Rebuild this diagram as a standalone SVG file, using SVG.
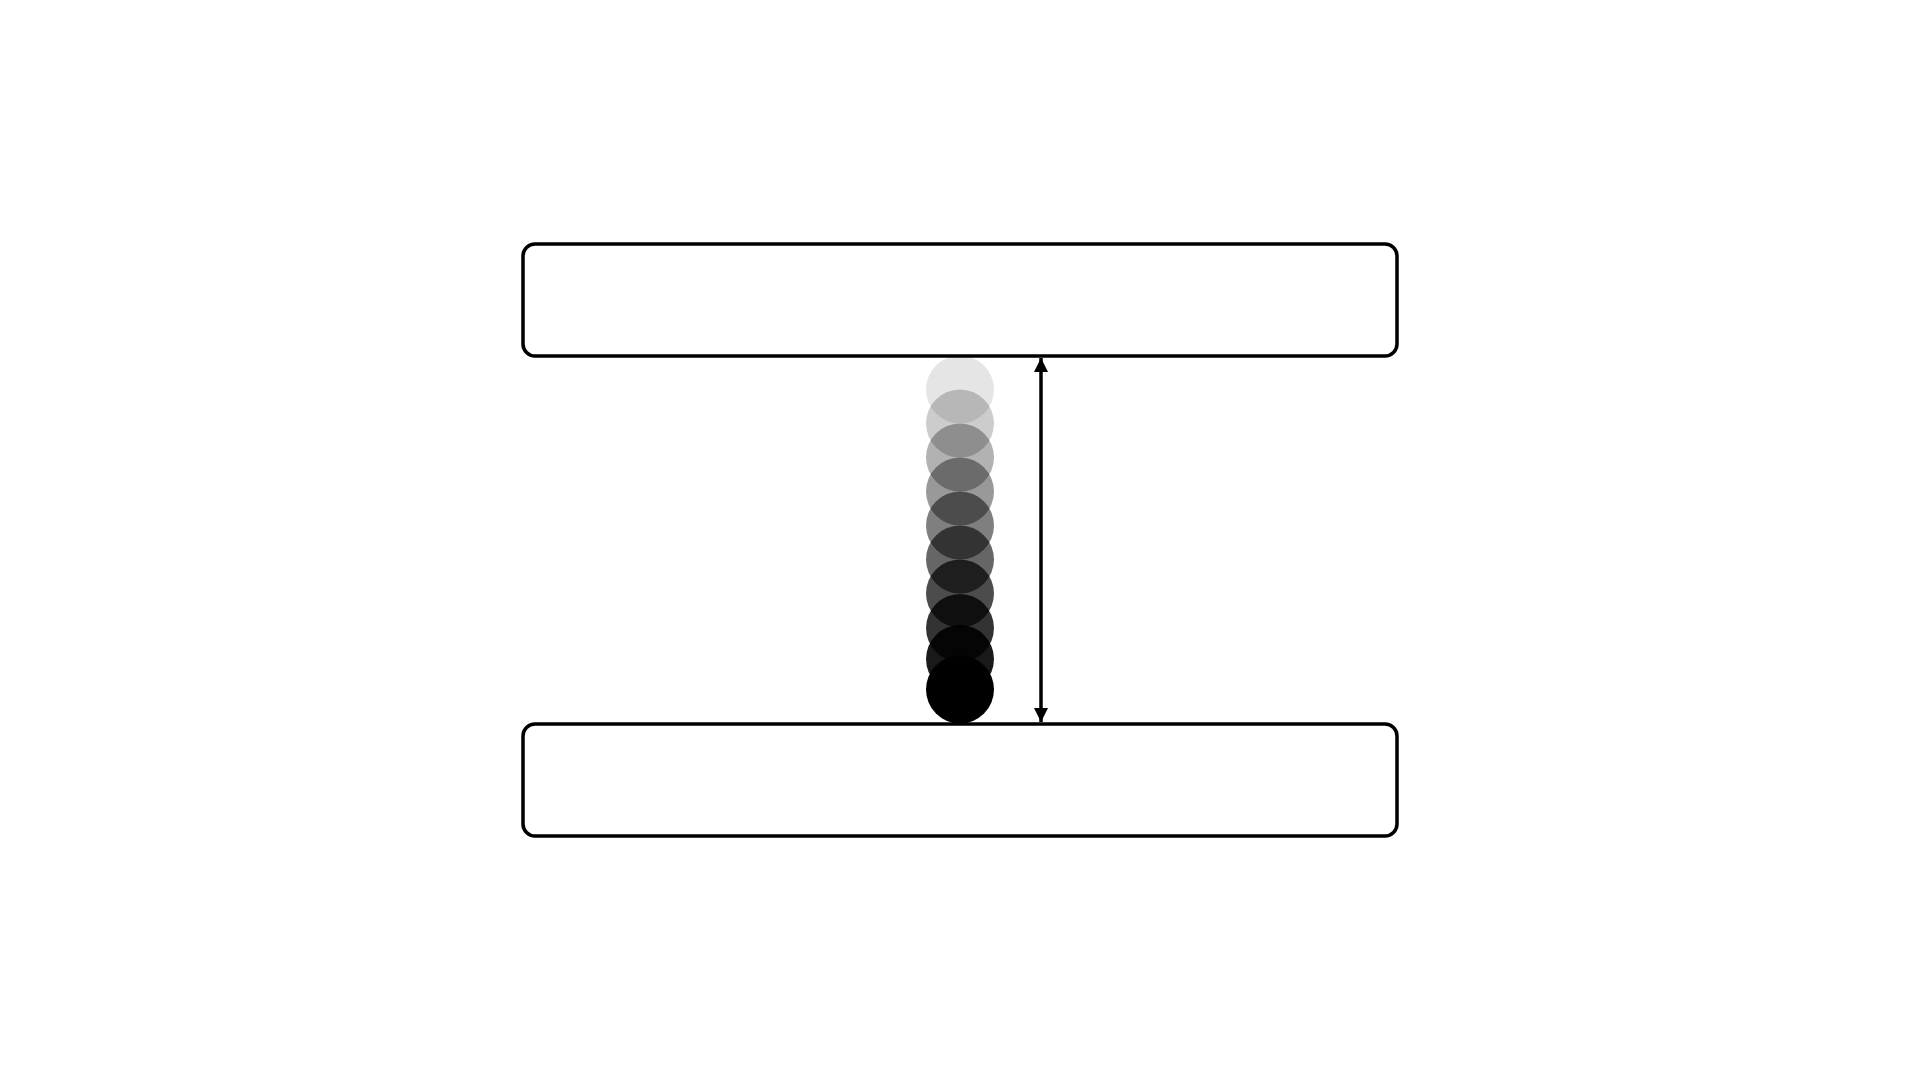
<svg xmlns="http://www.w3.org/2000/svg" width="1920" height="1080" viewBox="0 0 1920 1080">
<style>
.box{fill:#fff;stroke:#000;stroke-width:3.5}
.dot{fill:#000}
.conn{stroke:#000;stroke-width:3.5;fill:none}
</style>
<defs>
<marker id="ah" viewBox="0 0 10 10" refX="10" refY="5" markerWidth="4" markerHeight="4" orient="auto-start-reverse" markerUnits="strokeWidth">
<path d="M0,0 L10,5 L0,10 z" fill="#000"/>
</marker>
</defs>
<rect width="1920" height="1080" fill="#fff"/>
<g id="top-box"><rect class="box" x="523" y="244" width="874" height="112" rx="12"/></g>
<g id="bottom-box"><rect class="box" x="523" y="724" width="874" height="112" rx="12"/></g>
<g id="trail">
<circle class="dot" cx="960" cy="389.5" r="34" opacity="0.1"/>
<circle class="dot" cx="960" cy="423.5" r="34" opacity="0.2"/>
<circle class="dot" cx="960" cy="457.5" r="34" opacity="0.3"/>
<circle class="dot" cx="960" cy="491.5" r="34" opacity="0.4"/>
<circle class="dot" cx="960" cy="525.5" r="34" opacity="0.5"/>
<circle class="dot" cx="960" cy="559.5" r="34" opacity="0.6"/>
<circle class="dot" cx="960" cy="593.5" r="34" opacity="0.7"/>
<circle class="dot" cx="960" cy="628" r="34" opacity="0.8"/>
<circle class="dot" cx="960" cy="659" r="34" opacity="0.9"/>
<circle class="dot" cx="960" cy="689.5" r="34" opacity="1"/>
</g>
<g id="connectors">
<line class="conn" x1="1041" y1="358" x2="1041" y2="722" marker-start="url(#ah)" marker-end="url(#ah)"/>
</g>
</svg>
